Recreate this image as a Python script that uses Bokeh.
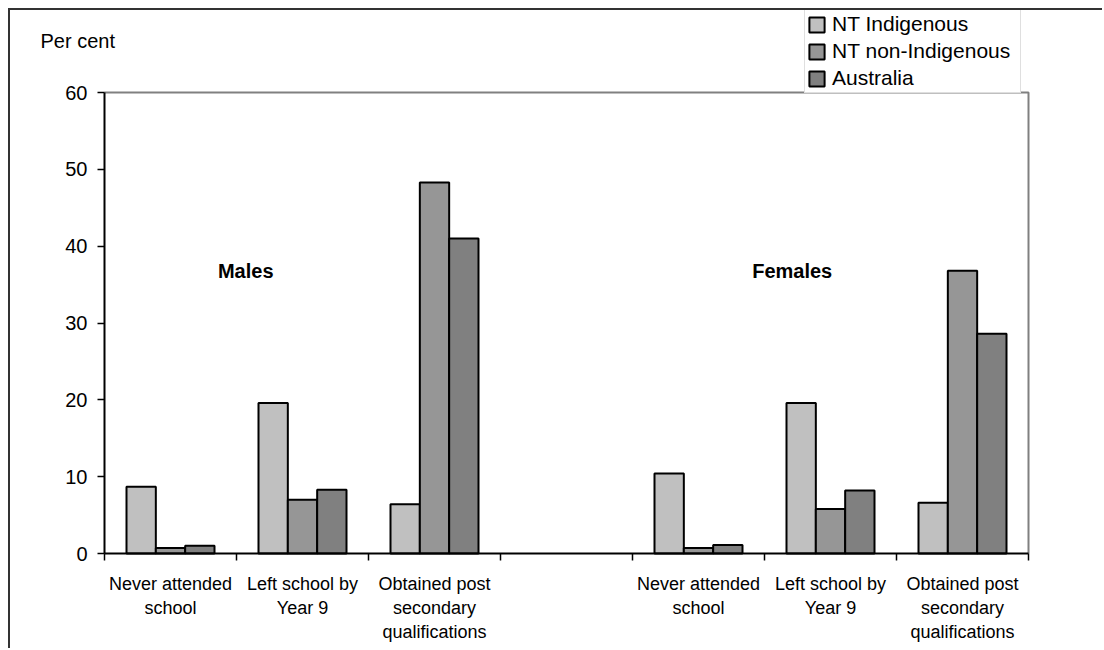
from bokeh.plotting import figure
from bokeh.models import (ColumnDataSource, FixedTicker, Range1d, Label,
                          Legend, LegendItem, NumeralTickFormatter)
from bokeh.embed import file_html
from bokeh.resources import INLINE

# Educational attainment, per cent of persons
categories = ["Never attended\nschool", "Left school by\nYear 9",
              "Obtained post\nsecondary\nqualifications"]
groups = ["Males", "Females"]
series = ["NT Indigenous", "NT non-Indigenous", "Australia"]

male_indigenous = [8.7, 19.6, 6.4]
male_non_indigenous = [0.7, 7.0, 48.3]
male_australia = [1.0, 8.3, 41.0]

female_indigenous = [10.4, 19.6, 6.6]
female_non_indigenous = [0.7, 5.8, 36.8]
female_australia = [1.1, 8.2, 28.6]

y_ticks = [0, 10, 20, 30, 40, 50, 60]

colors = ["#c0c0c0", "#969696", "#808080"]
FONT = "Liberation Sans"

# slot layout: three male categories, an empty slot, three female categories
male_slots = [0, 1, 2]
female_slots = [4, 5, 6]
n_slots = 7
bar_w = 1 / 4.5
offsets = [-bar_w, 0.0, bar_w]

# canvas geometry (pixels); the plotting area sits inside a larger frame
W, H = 1094, 640
area_left, area_right = 94, 1018     # x of slot 0 and slot 7
area_top, area_bottom = 82, 543      # y of value 60 and value 0
px_per_slot = (area_right - area_left) / n_slots
y_max = y_ticks[-1]
px_per_unit = (area_bottom - area_top) / y_max

x_range = Range1d(-area_left / px_per_slot, n_slots + (W - area_right) / px_per_slot)
y_range = Range1d(-(H - area_bottom) / px_per_unit, y_max + area_top / px_per_unit)

p = figure(width=W, height=H, output_backend="svg", toolbar_location=None,
           x_range=x_range, y_range=y_range, min_border=0,
           min_border_left=0, min_border_right=0,
           min_border_top=0, min_border_bottom=0,
           background_fill_color="white", border_fill_color="white")
p.styles = {"margin-left": "8px", "margin-top": "8px",
            "border-left": "2px solid #333333",
            "border-top": "2px solid #333333"}

p.xgrid.visible = False
p.ygrid.visible = False
p.outline_line_color = None

# grey border along the top and right of the plotting area
p.line(x=[0, n_slots, n_slots], y=[y_max, y_max, 0],
       line_color="#808080", line_width=2)

series_values = [
    (male_indigenous, female_indigenous),
    (male_non_indigenous, female_non_indigenous),
    (male_australia, female_australia),
]

renderers = []
for i, (mv, fv) in enumerate(series_values):
    xs = [s + 0.5 + offsets[i] for s in male_slots] + \
         [s + 0.5 + offsets[i] for s in female_slots]
    tops = list(mv) + list(fv)
    src = ColumnDataSource(dict(x=xs, top=tops))
    r = p.vbar(x="x", top="top", bottom=0, width=bar_w, source=src,
               fill_color=colors[i], line_color="black", line_width=2)
    renderers.append(r)

# x axis: boundary ticks as minor ticks, category names at slot centres
centers = [s + 0.5 for s in male_slots + female_slots]
xax = p.xaxis[0]
xax.fixed_location = 0
xax.bounds = (0, n_slots)
xax.ticker = FixedTicker(ticks=centers, minor_ticks=list(range(n_slots + 1)))
xax.major_label_overrides = {c: categories[k % 3] for k, c in enumerate(centers)}
xax.major_tick_line_color = None
xax.major_tick_out = 0
xax.major_tick_in = 0
xax.minor_tick_out = 7
xax.minor_tick_in = 0
xax.minor_tick_line_color = "black"
xax.minor_tick_line_width = 1.5
xax.axis_line_color = "black"
xax.axis_line_width = 2
xax.major_label_standoff = 13
xax.major_label_text_font = FONT
xax.major_label_text_font_size = "18px"
xax.major_label_text_color = "black"

yax = p.yaxis[0]
yax.fixed_location = 0
yax.bounds = (0, y_max)
yax.ticker = FixedTicker(ticks=y_ticks, minor_ticks=[])
yax.formatter = NumeralTickFormatter(format="0")
yax.major_tick_out = 7
yax.major_tick_in = 0
yax.major_tick_line_color = "black"
yax.major_tick_line_width = 1.5
yax.minor_tick_line_color = None
yax.axis_line_color = "black"
yax.axis_line_width = 2
yax.major_label_standoff = 10
yax.major_label_text_font = FONT
yax.major_label_text_font_size = "20px"
yax.major_label_text_color = "black"

# group titles
for name, slot in zip(groups, [1.07, 5.21]):
    p.add_layout(Label(x=slot, y=36.8, text=name, text_font=FONT,
                       text_font_size="20px", text_font_style="bold",
                       text_align="center", text_baseline="middle",
                       text_color="black"))

# unit label above the value axis
p.add_layout(Label(x=-64 / px_per_slot, y=y_max + 52 / px_per_unit, text="Per cent",
                   text_font=FONT, text_font_size="20px", text_align="left",
                   text_baseline="middle", text_color="black"))

legend_h = 83
legend = Legend(
    items=[LegendItem(label=s, renderers=[r]) for s, r in zip(series, renderers)],
    location=(794, H - legend_h), orientation="vertical",
    label_text_font=FONT, label_text_font_size="21px", label_text_color="black",
    glyph_width=19, glyph_height=19, label_height=24, label_width=186,
    label_standoff=6, spacing=3, padding=2, margin=0,
    border_line_color="#c0c0c0", border_line_width=1,
    background_fill_color="white", background_fill_alpha=1.0,
)
p.add_layout(legend, "center")

open("out.html", "w").write(file_html(p, INLINE))
